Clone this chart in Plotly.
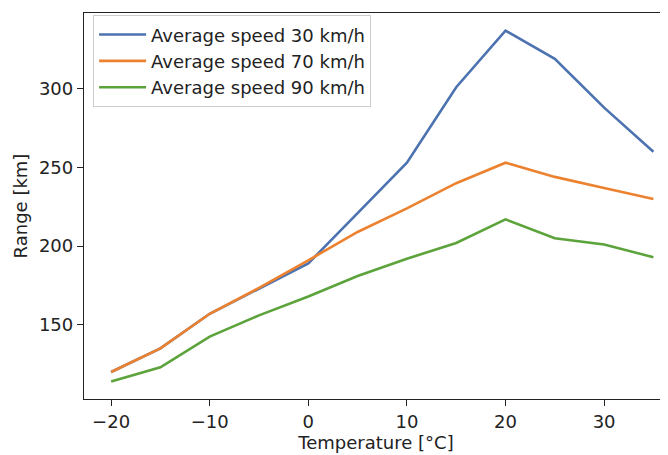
import plotly.graph_objects as go

temperature = [-20, -15, -10, -5, 0, 5, 10, 15, 20, 25, 30, 35]
speed_30 = [120, 135, 157, 173, 189, 221, 253, 301, 337, 319, 288, 260]
speed_70 = [120, 135, 157, 173.5, 191, 209, 224, 240, 253, 244, 237, 230]
speed_90 = [114, 123, 142.5, 156, 168, 181, 192, 202, 217, 205, 201, 193]
series_names = ["Average speed 30 km/h", "Average speed 70 km/h", "Average speed 90 km/h"]
colors = ["#4c72b0", "#ec822f", "#5ca33c"]

fig = go.Figure()
for name, vals, c in zip(series_names, [speed_30, speed_70, speed_90], colors):
    fig.add_trace(go.Scatter(x=temperature, y=vals, mode="lines", name=name,
                             line=dict(color=c, width=2.6)))

font_family = "DejaVu Sans"
fs = 18
fig.update_layout(
    width=660, height=447,
    margin=dict(l=76, r=0, t=5, b=56, autoexpand=False),
    plot_bgcolor="white", paper_bgcolor="white",
    font=dict(family=font_family, size=fs, color="#222222"),
    showlegend=True,
    legend=dict(x=0.0156, y=0.994, xanchor="left", yanchor="top",
                bgcolor="rgba(255,255,255,0.9)", bordercolor="#cccccc", borderwidth=1,
                font=dict(size=fs, family=font_family), itemwidth=47,
                tracegroupgap=0),
    xaxis=dict(range=[-22.75, 36.48], tickvals=[-20, -10, 0, 10, 20, 30],
               ticktext=["\u221220", "\u221210", "0", "10", "20", "30"],
               showgrid=False, zeroline=False, showline=True, linecolor="#222222",
               linewidth=1.3, mirror=True, ticks="outside", ticklen=6, tickcolor="#222222",
               tickfont=dict(size=fs), automargin=False,
               title=dict(text="Temperature [°C]", font=dict(size=fs), standoff=4)),
    yaxis=dict(range=[102.85, 348.15], tickvals=[150, 200, 250, 300],
               showgrid=False, zeroline=False, showline=True, linecolor="#222222",
               linewidth=1.3, mirror=False, ticks="outside", ticklen=6, tickcolor="#222222",
               tickfont=dict(size=fs), automargin=False,
               title=dict(text="Range [km]", font=dict(size=fs), standoff=6)),
)

fig.write_html("out.html")
